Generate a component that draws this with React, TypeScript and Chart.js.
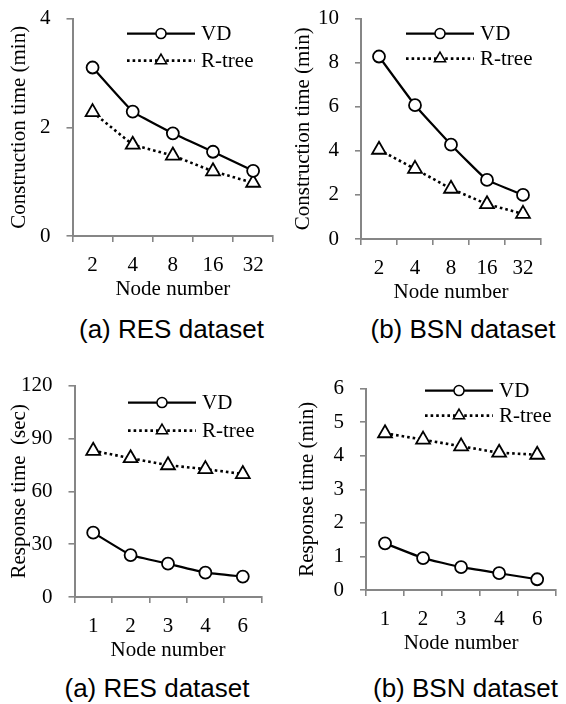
import React, { useEffect, useRef } from "react";
import { Chart, registerables } from "chart.js";

Chart.register(...registerables);

// ---------- data ----------
const constructionNodes = ["2", "4", "8", "16", "32"];
const responseNodes = ["1", "2", "3", "4", "6"];

const resConstructionVD = [3.1, 2.29, 1.89, 1.55, 1.2];
const resConstructionRtree = [2.28, 1.68, 1.48, 1.19, 0.98];

const bsnConstructionVD = [8.28, 6.07, 4.28, 2.68, 2.0];
const bsnConstructionRtree = [4.05, 3.18, 2.28, 1.58, 1.14];

const resResponseVD = [36.5, 23.8, 18.9, 13.8, 11.6];
const resResponseRtree = [83, 78.8, 74.8, 72.6, 69.8];

const bsnResponseVD = [1.39, 0.95, 0.68, 0.5, 0.32];
const bsnResponseRtree = [4.67, 4.48, 4.28, 4.09, 4.03];

const seriesNames = ["VD", "R-tree"];
const captions = ["(a) RES dataset", "(b) BSN dataset", "(a) RES dataset", "(b) BSN dataset"];
const yTitles = ["Construction time (min)", "Construction time (min)", "Response time  (sec)", "Response time (min)"];
const xTitle = "Node number";

// ---------- style / layout ----------
const GRAY = "#868686";
const SERIF = '"Liberation Serif", "Times New Roman", serif';
const SANS = '"Liberation Sans", Arial, sans-serif';
const FS = 21;

type PanelCfg = {
  labels: string[];
  vd: number[];
  rtree: number[];
  yMax: number;
  yStep: number;
  yTitle: string;
  caption: string;
  boxX: number;
  area: { l: number; t: number; r: number; b: number };
  yTitlePad: number;
  legend: { dx: number; dy: number; gap: number };
  captionCenter: number;
  captionBaseline: number;
};

const panels: PanelCfg[] = [
  {
    labels: constructionNodes, vd: resConstructionVD, rtree: resConstructionRtree,
    yMax: 4, yStep: 2, yTitle: yTitles[0], caption: captions[0],
    boxX: 0, area: { l: 72.5, t: 10, r: 274.5, b: 236 }, yTitlePad: 6.5,
    legend: { dx: 54.5, dy: 15, gap: 27 }, captionCenter: 171.5, captionBaseline: 338,
  },
  {
    labels: constructionNodes, vd: bsnConstructionVD, rtree: bsnConstructionRtree,
    yMax: 10, yStep: 2, yTitle: yTitles[1], caption: captions[1],
    boxX: 283, area: { l: 361, t: 10, r: 541, b: 239 }, yTitlePad: 7.5,
    legend: { dx: 45, dy: 15, gap: 25 }, captionCenter: 463, captionBaseline: 338,
  },
  {
    labels: responseNodes, vd: resResponseVD, rtree: resResponseRtree,
    yMax: 120, yStep: 30, yTitle: yTitles[2], caption: captions[2],
    boxX: 0, area: { l: 74.5, t: 377, r: 261.5, b: 597 }, yTitlePad: 6.5,
    legend: { dx: 53.5, dy: 17, gap: 28 }, captionCenter: 157, captionBaseline: 697,
  },
  {
    labels: responseNodes, vd: bsnResponseVD, rtree: bsnResponseRtree,
    yMax: 6, yStep: 1, yTitle: yTitles[3], caption: captions[3],
    boxX: 283, area: { l: 366, t: 380, r: 566, b: 590 }, yTitlePad: 11.5,
    legend: { dx: 59, dy: 2, gap: 25 }, captionCenter: 465.5, captionBaseline: 697,
  },
];

const TOP_PAD = 20;
const X_AXIS_H = 70;
const BOX_W = 283;

function drawMarker(ctx: CanvasRenderingContext2D, style: string, x: number, y: number, r: number, bw: number) {
  ctx.save();
  ctx.setLineDash([]);
  ctx.lineWidth = bw;
  ctx.strokeStyle = "#000";
  ctx.fillStyle = "#fff";
  ctx.beginPath();
  if (style === "triangle") {
    let a = 0;
    ctx.moveTo(x + Math.sin(a) * r, y - Math.cos(a) * r);
    a += (2 * Math.PI) / 3;
    ctx.lineTo(x + Math.sin(a) * r, y - Math.cos(a) * r);
    a += (2 * Math.PI) / 3;
    ctx.lineTo(x + Math.sin(a) * r, y - Math.cos(a) * r);
    ctx.closePath();
  } else {
    ctx.arc(x, y, r, 0, Math.PI * 2);
  }
  ctx.fill();
  ctx.stroke();
  ctx.restore();
}

const lineLegend = {
  id: "lineLegend",
  afterDraw(chart: any, _args: any, opts: any) {
    const { ctx, chartArea } = chart;
    const x0 = chartArea.left + opts.dx;
    const len = 68;
    chart.data.datasets.forEach((ds: any, i: number) => {
      const y = chartArea.top + opts.dy + i * opts.gap;
      ctx.save();
      ctx.strokeStyle = ds.borderColor;
      ctx.lineWidth = ds.borderWidth;
      ctx.setLineDash(ds.borderDash || []);
      ctx.beginPath();
      ctx.moveTo(x0, y);
      ctx.lineTo(x0 + len, y);
      ctx.stroke();
      ctx.restore();
      drawMarker(ctx, ds.pointStyle, x0 + len / 2, y, ds.pointStyle === "triangle" ? 6.5 : 5, 1.5);
      ctx.save();
      ctx.fillStyle = "#000";
      ctx.font = `${FS}px ${SERIF}`;
      ctx.textBaseline = "middle";
      ctx.textAlign = "left";
      ctx.fillText(ds.label, x0 + len + 6, y + 1);
      ctx.restore();
    });
  },
};

function Panel({ cfg }: { cfg: PanelCfg }) {
  const ref = useRef<HTMLCanvasElement | null>(null);
  const top = Math.round(cfg.area.t - TOP_PAD);
  const height = Math.round(cfg.area.b + X_AXIS_H - top);
  const padTop = cfg.area.t - top;
  const padRight = cfg.boxX + BOX_W - cfg.area.r;
  const yAxisW = cfg.area.l - cfg.boxX;
  const xAxisH = top + height - cfg.area.b;

  useEffect(() => {
    if (!ref.current) return;
    const font = { family: SERIF, size: FS };
    const chart = new Chart(ref.current, {
      type: "line",
      data: {
        labels: cfg.labels,
        datasets: [
          {
            label: seriesNames[0],
            data: cfg.vd,
            borderColor: "#000",
            borderWidth: 2.2,
            pointStyle: "circle",
            pointRadius: 6,
            pointBackgroundColor: "#fff",
            pointBorderColor: "#000",
            pointBorderWidth: 1.8,
            tension: 0.1,
          },
          {
            label: seriesNames[1],
            data: cfg.rtree,
            borderColor: "#000",
            borderWidth: 2.6,
            borderDash: [2.6, 3],
            pointStyle: "triangle",
            pointRadius: 8,
            pointBackgroundColor: "#fff",
            pointBorderColor: "#000",
            pointBorderWidth: 1.8,
            tension: 0,
          },
        ] as any,
      },
      options: {
        responsive: false,
        maintainAspectRatio: false,
        animation: false,
        devicePixelRatio: 1,
        layout: { padding: { top: padTop, right: padRight, left: 0, bottom: 0 } },
        plugins: {
          legend: { display: false },
          tooltip: { enabled: false },
          lineLegend: cfg.legend,
        } as any,
        scales: {
          x: {
            type: "category",
            offset: true,
            grid: {
              display: true,
              drawOnChartArea: false,
              drawTicks: true,
              tickLength: 6,
              offset: true,
              color: GRAY,
              lineWidth: 1.6,
            },
            border: { display: true, color: GRAY, width: 2 },
            ticks: { font, color: "#000", padding: 11, maxRotation: 0, autoSkip: false },
            title: { display: true, text: xTitle, font, color: "#000", padding: { top: 0, bottom: 3.5 } },
            afterFit: (s: any) => {
              s.height = xAxisH;
            },
          },
          y: {
            min: 0,
            max: cfg.yMax,
            grid: {
              display: true,
              drawOnChartArea: false,
              drawTicks: true,
              tickLength: 6,
              color: GRAY,
              lineWidth: 1.6,
            },
            border: { display: true, color: GRAY, width: 2 },
            ticks: { stepSize: cfg.yStep, font, color: "#000", padding: 16 },
            title: { display: true, text: cfg.yTitle, font, color: "#000", padding: { top: cfg.yTitlePad, bottom: 0 } },
            afterFit: (s: any) => {
              s.width = yAxisW;
            },
          },
        } as any,
      },
      plugins: [lineLegend as any],
    });
    return () => chart.destroy();
  }, [cfg]);

  return (
    <>
      <canvas
        ref={ref}
        width={BOX_W}
        height={height}
        style={{ position: "absolute", left: cfg.boxX, top, width: BOX_W, height }}
      />
      <div
        style={{
          position: "absolute",
          left: cfg.captionCenter - 150,
          width: 300,
          top: cfg.captionBaseline - 22,
          height: 26,
          lineHeight: "26px",
          fontSize: 26,
          fontFamily: SANS,
          color: "#000",
          textAlign: "center",
          whiteSpace: "nowrap",
        }}
      >
        {cfg.caption}
      </div>
    </>
  );
}

export default function App() {
  return (
    <div
      style={{
        position: "absolute",
        left: 0,
        top: 0,
        width: 566,
        height: 704,
        overflow: "hidden",
        background: "#fff",
      }}
    >
      {panels.map((p, i) => (
        <Panel key={i} cfg={p} />
      ))}
    </div>
  );
}
